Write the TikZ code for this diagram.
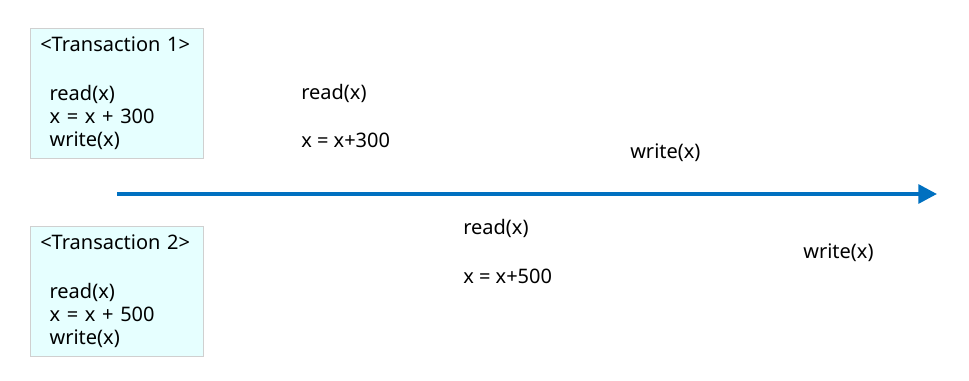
\documentclass[tikz,border=0pt]{standalone}
\usepackage{fontspec}
\setmainfont{Noto Sans}
\usetikzlibrary{arrows.meta}
\definecolor{boxfill}{HTML}{E6FFFF}
\definecolor{boxline}{HTML}{D0D0D0}
\definecolor{timeblue}{HTML}{0070C0}
\tikzset{
    trbox/.style={draw=boxline, fill=boxfill, anchor=north west, align=left,
        minimum width=129.75pt, minimum height=97.5pt,
        inner xsep=7.5pt, inner ysep=3pt, text width=114.75pt},
    op/.style={anchor=west, inner sep=0pt}
}
\begin{document}
\begin{tikzpicture}[x=0.75pt, y=-0.75pt,
        every node/.style={font=\fontsize{15}{17.25}\selectfont}]
    \useasboundingbox (0,0) rectangle (969,381);
    % transactions
    \node [trbox] (t1) at (30,28) {<Transaction 1>\\[19.5pt]
        \hspace*{7pt}read(x)\\\hspace*{7pt}x = x + 300\\\hspace*{7pt}write(x)};
    \node [trbox] (t2) at (30,226) {<Transaction 2>\\[19.5pt]
        \hspace*{7pt}read(x)\\\hspace*{7pt}x = x + 500\\\hspace*{7pt}write(x)};
    % time line
    \coordinate (start) at (117,194);
    \coordinate (end) at (937,194);
    \draw [timeblue, line width=3pt, -{Triangle[length=14pt,width=14pt]}] (start) -- (end);
    % operations of transaction 1
    \node [op] (r1) at (301,93) {read(x)};
    \node [op] (c1) at (301,140) {x = x+300};
    \node [op] (w1) at (630,153) {write(x)};
    % operations of transaction 2
    \node [op] (r2) at (463,228) {read(x)};
    \node [op] (c2) at (463,276) {x = x+500};
    \node [op] (w2) at (803,253) {write(x)};
\end{tikzpicture}
\end{document}
